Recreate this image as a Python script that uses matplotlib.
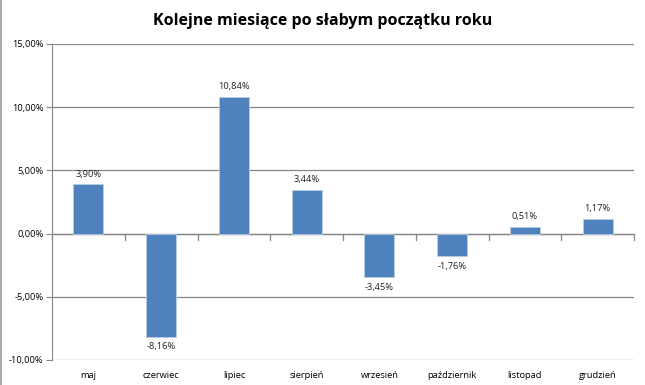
import matplotlib
matplotlib.use("Agg")
import matplotlib.pyplot as plt
from matplotlib.ticker import FuncFormatter, MultipleLocator

plt.rcParams["font.family"] = ["Open Sans", "DejaVu Sans"]

months = ["maj", "czerwiec", "lipiec", "sierpień", "wrzesień",
          "październik", "listopad", "grudzień"]
values = [3.90, -8.16, 10.84, 3.44, -3.45, -1.76, 0.51, 1.17]

BAR = "#4F81BD"
GRID = "#868686"


def pct(v, _=None):
    return f"{v:.2f}%".replace(".", ",")


fig = plt.figure(figsize=(6.45, 3.85), dpi=100)
ax = fig.add_axes([52 / 645, 25 / 385, 582 / 645, 316 / 385])

x = list(range(len(months)))
ax.bar(x, values, width=0.41, color=BAR, edgecolor="#B9CDE5", linewidth=0.6, zorder=3)

for xi, v in zip(x, values):
    if v >= 0:
        ax.text(xi, v + 0.45, pct(v), ha="center", va="bottom", fontsize=6.7, color="#222222")
    else:
        ax.text(xi, v - 0.45, pct(v), ha="center", va="top", fontsize=6.7, color="#222222")

ax.set_xlim(-0.5, len(months) - 0.5)
ax.set_ylim(-10, 15)
ax.yaxis.set_major_locator(MultipleLocator(5))
ax.yaxis.set_major_formatter(FuncFormatter(pct))
ax.yaxis.grid(True, color=GRID, linewidth=0.9, zorder=0)
ax.set_axisbelow(True)

ax.set_xticks(x)
ax.set_xticklabels(months, fontsize=6.7)
ax.tick_params(axis="x", length=0, pad=8)
ax.tick_params(axis="y", labelsize=6.7, length=4, color=GRID, pad=2)

for s in ["top", "right", "bottom"]:
    ax.spines[s].set_visible(False)
ax.spines["left"].set_color(GRID)

# zero axis line with category-boundary ticks
ax.axhline(0, color=GRID, linewidth=0.9, zorder=2)
for b in range(len(months) + 1):
    ax.plot([b - 0.5, b - 0.5], [0, -0.5], color=GRID, linewidth=0.9, zorder=2, clip_on=False)

fig.text(0.5, 0.945, "Kolejne miesiące po słabym początku roku",
         ha="center", va="center", fontsize=11.5, fontweight="bold")

# left border of chart area
fig.add_artist(plt.Line2D([0.0015, 0.0015], [0, 1], color="#999999", linewidth=1.2,
                          transform=fig.transFigure))

fig.savefig("out.png", dpi=100)
